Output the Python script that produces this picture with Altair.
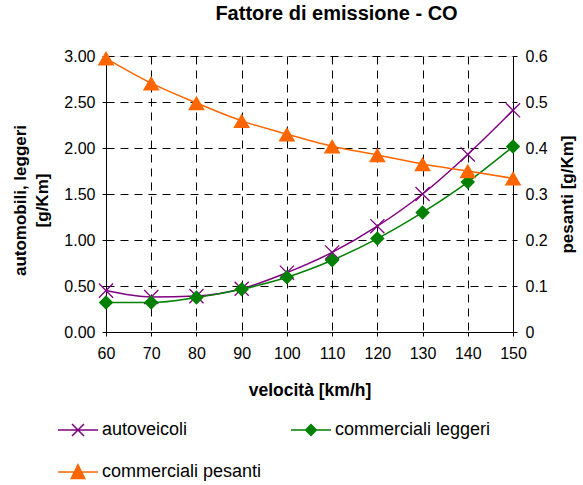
import altair as alt
import pandas as pd

# --- data -----------------------------------------------------------------
velocita = [60, 70, 80, 90, 100, 110, 120, 130, 140, 150]
autoveicoli = [0.45, 0.38, 0.39, 0.47, 0.645, 0.865, 1.15, 1.50, 1.93, 2.41]
commerciali_leggeri = [0.32, 0.32, 0.375, 0.465, 0.595, 0.78, 1.015, 1.30, 1.63, 2.015]
commerciali_pesanti = [0.595, 0.541, 0.498, 0.459, 0.430, 0.404, 0.385, 0.365, 0.350, 0.334]

serie = ["autoveicoli", "commerciali leggeri", "commerciali pesanti"]
colori = ["#800080", "#008000", "#FF6600"]
tick_sx = [0, 0.5, 1.0, 1.5, 2.0, 2.5, 3.0]
tick_dx = [0, 0.1, 0.2, 0.3, 0.4, 0.5, 0.6]

# legend glyphs: a short line with the series marker in the middle
simboli_legenda = [
    "M-1,0H1M-0.3,-0.3L0.3,0.3M-0.3,0.3L0.3,-0.3",
    "M-1,0H1M-0.27,0L0,-0.27L0.27,0L0,0.27Z",
    "M-1,0H1M0,-0.36L0.34,0.32L-0.34,0.32Z",
]

df = pd.DataFrame({
    "velocita": velocita * 3,
    "serie": sum([[s] * len(velocita) for s in serie], []),
    "valore": autoveicoli + commerciali_leggeri + commerciali_pesanti,
})

FONT = "Liberation Sans"
W, H = 407, 276

x_enc = alt.X(
    "velocita:Q",
    scale=alt.Scale(domain=[60, 150], nice=False),
    axis=alt.Axis(
        values=velocita, title="velocità [km/h]", format="d",
        grid=True, gridColor="#000000", gridDash=[8, 6], gridWidth=1,
        domainColor="#000000", tickColor="#000000", tickSize=4,
        labelPadding=9, labelFontSize=16, labelFont=FONT, labelColor="#000000",
        labelFlush=False, labelOverlap=False,
        titleFont=FONT, titleFontSize=17.5, titleFontWeight="bold", titleColor="#000000",
        titleX=W / 2, titleY=63, titleBaseline="alphabetic", titleAlign="center",
    ),
)

y_left = alt.Y(
    "valore:Q",
    scale=alt.Scale(domain=[0, 3], nice=False),
    axis=alt.Axis(
        values=tick_sx, format=".2f", orient="left",
        title=["automobili, leggeri", "[g/Km]"],
        grid=True, gridColor="#000000", gridDash=[8, 6], gridWidth=1,
        domainColor="#000000", tickColor="#000000", tickSize=4,
        labelPadding=7, labelFontSize=16, labelFont=FONT, labelColor="#000000",
        labelFlush=False, labelOverlap=False,
        titleFont=FONT, titleFontSize=17, titleFontWeight="bold", titleColor="#000000",
        titleAngle=270, titleX=-81, titleY=144, titleAlign="center",
        titleBaseline="alphabetic", titleLineHeight=22,
    ),
)

y_right = alt.Y(
    "valore:Q",
    scale=alt.Scale(domain=[0, 0.6], nice=False),
    axis=alt.Axis(
        values=tick_dx, format="~g", orient="right",
        title="pesanti [g/Km]", grid=False,
        domainColor="#000000", tickColor="#000000", tickSize=4,
        labelPadding=8, labelFontSize=16, labelFont=FONT, labelColor="#000000",
        labelFlush=False, labelOverlap=False,
        titleFont=FONT, titleFontSize=17, titleFontWeight="bold", titleColor="#000000",
        titleAngle=270, titleX=59, titleY=138, titleAlign="center",
        titleBaseline="alphabetic",
    ),
)

base = alt.Chart(df)

def serie_line(nome, colore):
    return base.transform_filter(alt.datum.serie == nome).mark_line(
        color=colore, strokeWidth=1.5, interpolate="monotone"
    )

# autoveicoli / commerciali leggeri on the left axis
linea_auto = serie_line(serie[0], colori[0])
punti_auto = base.transform_filter(alt.datum.serie == serie[0]).mark_point(
    shape="M-1,-1L1,1M-1,1L1,-1", size=200, stroke=colori[0], strokeWidth=1.3,
    filled=False, opacity=1,
)
linea_legg = serie_line(serie[1], colori[1])
punti_legg = base.transform_filter(alt.datum.serie == serie[1]).mark_point(
    shape="diamond", size=210, color=colori[1], filled=True, opacity=1,
)

legenda = dict(
    orient="none", legendX=-49, legendY=353, columns=2, direction="horizontal",
    title=None, symbolSize=1600, symbolStrokeWidth=1.5, symbolOpacity=1,
    labelFont=FONT, labelFontSize=18, labelColor="#000000", labelOffset=3,
    columnPadding=26, rowPadding=12,
)
scala_colori = alt.Scale(domain=serie, range=colori)

# invisible layer carrying the legend (line + marker glyphs)
chiave = base.mark_point(filled=True).encode(
    shape=alt.Shape("serie:N", scale=alt.Scale(domain=serie, range=simboli_legenda),
                    legend=alt.Legend(**legenda)),
    fill=alt.Fill("serie:N", scale=scala_colori, legend=alt.Legend(**legenda)),
    stroke=alt.Stroke("serie:N", scale=scala_colori, legend=alt.Legend(**legenda)),
    opacity=alt.value(0),
)

sinistra = alt.layer(linea_auto, punti_auto, linea_legg, punti_legg, chiave).encode(
    x=x_enc, y=y_left
)

# commerciali pesanti on the right axis
linea_pes = serie_line(serie[2], colori[2])
punti_pes = base.transform_filter(alt.datum.serie == serie[2]).mark_point(
    shape="triangle-up", size=280, color=colori[2], filled=True, opacity=1,
)
destra = alt.layer(linea_pes, punti_pes).encode(x=x_enc, y=y_right)

chart = (
    alt.layer(sinistra, destra)
    .resolve_scale(y="independent")
    .properties(
        width=W, height=H,
        title=alt.TitleParams(
            "Fattore di emissione - CO", font=FONT, fontSize=20, fontWeight="bold",
            color="#000000", anchor="middle", frame="group", baseline="alphabetic",
            offset=8, dx=27,
        ),
        autosize=alt.AutoSizeParams(type="none"),
        padding={"left": 106, "top": 56, "right": 70, "bottom": 153},
    )
    .configure_view(stroke=None)
    .configure(background="#ffffff")
)

chart.save("out.html", embed_options={"renderer": "svg", "actions": False})
